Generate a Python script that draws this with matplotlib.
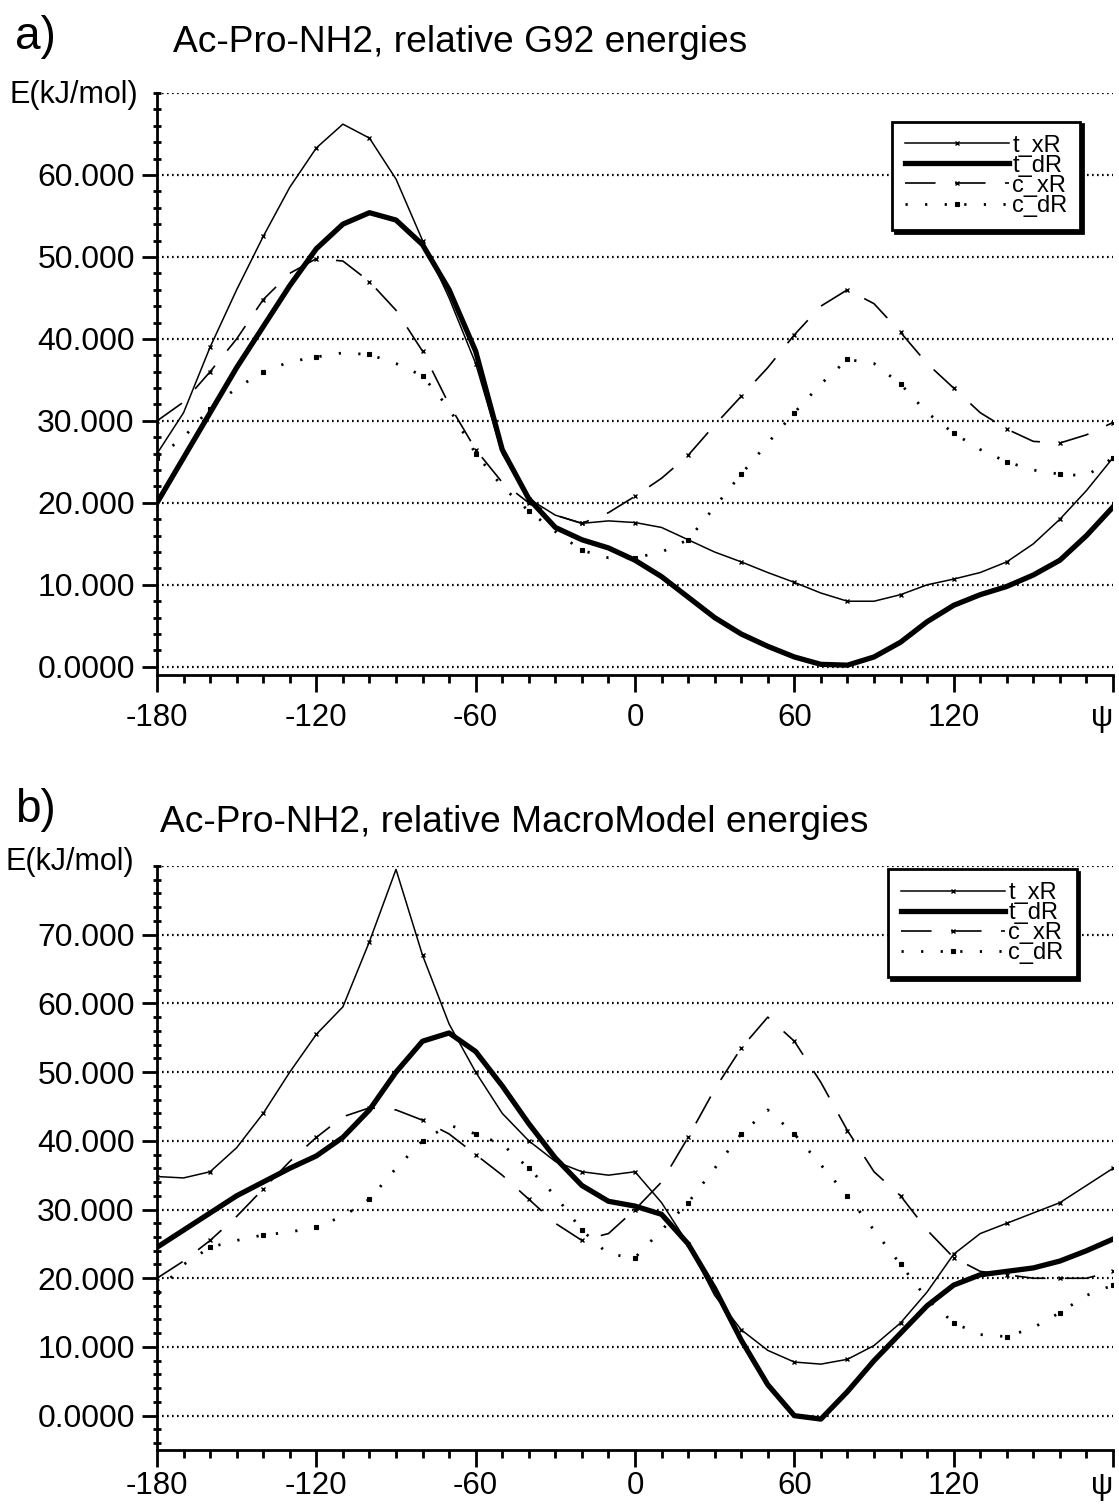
import matplotlib
matplotlib.use('Agg')
import matplotlib.pyplot as plt
from matplotlib.ticker import MultipleLocator

plt.rcParams['font.family'] = ['Liberation Sans', 'DejaVu Sans']
plt.rcParams['lines.scale_dashes'] = False

# ---------------- data ----------------
psi = list(range(-180, 181, 10))

a_t_xR = [26, 31, 39, 46, 52.5, 58.5, 63.3, 66.2, 64.5, 59.5, 52, 45, 37, 26, 20.5, 18.5,
          17.5, 17.8, 17.6, 17, 15.5, 14, 12.8, 11.5, 10.3, 9, 8, 8, 8.8, 10, 10.7, 11.5,
          12.8, 15, 18, 21.5, 25.5]
a_t_dR = [20, 25.5, 31, 36.5, 41.5, 46.5, 51, 54, 55.4, 54.5, 51.5, 46, 38.5, 26.5, 20.5, 17,
          15.5, 14.5, 13, 11, 8.5, 6, 4, 2.5, 1.2, 0.3, 0.2, 1.2, 3, 5.5, 7.5, 8.8,
          9.8, 11.2, 13, 16, 19.5]
a_c_xR = [30, 32.3, 36, 40, 44.8, 48, 49.8, 49.5, 47, 43.5, 38.5, 32, 26.5, 22.5, 20, 18.5,
          17.5, 18.8, 20.8, 23, 25.8, 29.5, 33, 36.5, 40.5, 44, 46, 44.3, 40.8, 37, 34, 31,
          29, 27.5, 27.3, 28.3, 29.8]
a_c_dR = [25.5, 28, 31.5, 34, 36, 37.2, 37.8, 38.3, 38.1, 37, 35.5, 31.5, 26, 22, 19, 16.5,
          14.2, 13.3, 13.3, 14, 15.5, 19.5, 23.5, 27.3, 31, 34.5, 37.5, 37, 34.5, 31, 28.5, 26.5,
          25, 24, 23.5, 23.3, 25.5]

b_t_xR = [34.8, 34.6, 35.5, 39, 44, 50, 55.5, 59.5, 69, 79.5, 67, 57, 50, 44, 40, 37,
          35.5, 35, 35.5, 31, 25, 17.5, 12.5, 9.5, 7.8, 7.5, 8.2, 10.2, 13.5, 18, 23.5, 26.5,
          28, 29.5, 31, 33.5, 36]
b_t_dR = [24.5, 27, 29.5, 32, 34, 36, 37.8, 40.5, 44.5, 50, 54.5, 55.7, 53, 48, 42.5, 37.5,
          33.5, 31.2, 30.5, 29.3, 25, 18.5, 11, 4.5, 0, -0.5, 3.5, 8, 12, 16, 19, 20.5,
          21, 21.5, 22.5, 24, 25.7]
b_c_xR = [20, 22.5, 25.5, 29, 33, 37, 40.5, 43.5, 44.8, 44.5, 43, 41, 38, 35, 31.5, 28,
          25.5, 26.5, 30, 34, 40.5, 47.5, 53.5, 58, 54.5, 48.5, 41.5, 35.5, 32, 27, 23, 21,
          20.5, 20, 20, 20, 21]
b_c_dR = [18, 22, 24.5, 25.5, 26.3, 26.7, 27.5, 29, 31.5, 36, 40, 42.3, 41, 39.5, 36, 32,
          27, 23.5, 23, 27, 31, 36, 41, 44.5, 41, 36.5, 32, 27, 22, 17, 13.5, 11.8,
          11.5, 12.8, 15, 17.5, 19]

series_names = ['t_xR', 't_dR', 'c_xR', 'c_dR']
x_ticks = [-180, -120, -60, 0, 60, 120, 180]
x_tick_labels = ['-180', '-120', '-60', '0', '60', '120', 'ψ']
a_y_ticks = [0, 10, 20, 30, 40, 50, 60]
a_y_labels = ['0.0000', '10.000', '20.000', '30.000', '40.000', '50.000', '60.000']
b_y_ticks = [0, 10, 20, 30, 40, 50, 60, 70]
b_y_labels = ['0.0000', '10.000', '20.000', '30.000', '40.000', '50.000', '60.000', '70.000']
title_a = 'Ac-Pro-NH2, relative G92 energies'
title_b = 'Ac-Pro-NH2, relative MacroModel energies'
y_label = 'E(kJ/mol)'

# ---------------- figure ----------------
W, H = 1119, 1504
fig = plt.figure(figsize=(W / 100, H / 100), dpi=100)


def axes_px(l, t, r, b):
    return fig.add_axes([l / W, 1 - b / H, (r - l) / W, (b - t) / H])


styles = [
    dict(color='k', lw=1.1, marker='x', ms=3.5, mew=1.0),
    dict(color='k', lw=3.8),
    dict(color='k', lw=1.2, dashes=(22, 14), marker='x', ms=3.5, mew=1.0),
    dict(color='k', lw=2.0, dashes=(1.6, 12.5), marker='s', ms=2.5, mew=0.8),
]


def draw(ax, data, ymin, ytop, yticks, ylabels, leg_anchor, xpad):
    handles = []
    for vals, name, st in zip(data, series_names, styles):
        h, = ax.plot(psi, vals, label=name, markevery=2, **st)
        handles.append(h)
    ax.set_xlim(-180, 180)
    ax.set_ylim(ymin, ytop)
    ax.spines['top'].set_visible(False)
    ax.spines['right'].set_visible(False)
    ax.spines['left'].set_linewidth(2)
    ax.spines['bottom'].set_linewidth(2)
    ax.set_xticks(x_ticks)
    ax.set_xticklabels(x_tick_labels)
    ax.get_xticklabels()[-1].set_horizontalalignment('right')
    ax.xaxis.set_minor_locator(MultipleLocator(10))
    ax.set_yticks(yticks)
    ax.set_yticklabels(ylabels)
    ax.yaxis.set_minor_locator(MultipleLocator(2))
    ax.tick_params(axis='x', which='major', direction='out', length=12, width=2, pad=xpad, labelsize=22.5)
    ax.tick_params(axis='x', which='minor', direction='out', length=6, width=2)
    ax.tick_params(axis='y', which='major', direction='out', length=11, width=2, pad=5, labelsize=23)
    ax.tick_params(axis='y', which='minor', direction='inout', length=6, width=2)
    for v in list(yticks) + [ytop]:
        ax.axhline(v, color='k', lw=1.6, dashes=(1.2, 2.4), zorder=0)
    leg = ax.legend(handles=handles, loc='upper right', bbox_to_anchor=leg_anchor,
                    borderaxespad=0, fontsize=17, handlelength=4.4, handletextpad=0.15,
                    labelspacing=-0.08, borderpad=0.55,
                    fancybox=False, framealpha=1, edgecolor='k',
                    shadow={'facecolor': 'k', 'edgecolor': 'k', 'alpha': 1})
    leg.get_frame().set_linewidth(2.0)


axa = axes_px(157, 93, 1113, 675)
draw(axa, [a_t_xR, a_t_dR, a_c_xR, a_c_dR], -1, 70, a_y_ticks, a_y_labels, (0.966, 0.951), 8)

axb = axes_px(157, 866, 1113, 1450)
draw(axb, [b_t_xR, b_t_dR, b_c_xR, b_c_dR], -5, 80, b_y_ticks, b_y_labels, (0.962, 0.995), 3)

fig.text(15 / W, 1 - 37 / H, 'a)', fontsize=33, va='center', ha='left')
fig.text(173 / W, 1 - 42 / H, title_a, fontsize=26.7, va='center', ha='left')
fig.text(10 / W, 1 - 95 / H, y_label, fontsize=22, va='center', ha='left')

fig.text(15 / W, 1 - 810 / H, 'b)', fontsize=33, va='center', ha='left')
fig.text(160 / W, 1 - 822 / H, title_b, fontsize=26.7, va='center', ha='left')
fig.text(5 / W, 1 - 862 / H, y_label, fontsize=22, va='center', ha='left')

fig.savefig('out.png', dpi=100)
